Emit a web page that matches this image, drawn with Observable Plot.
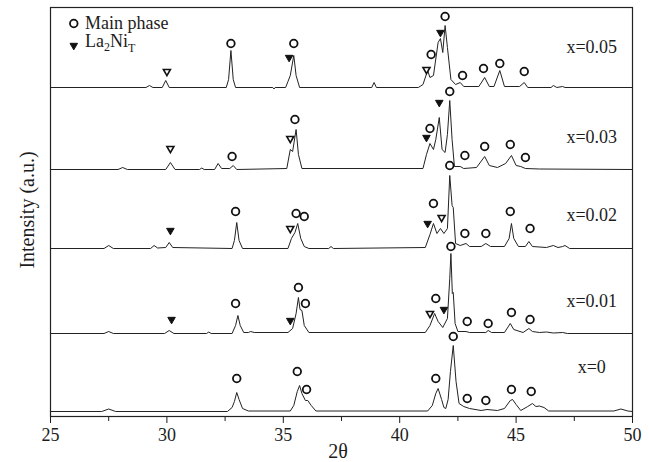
<!DOCTYPE html>
<html><head><meta charset="utf-8">
<script src="https://cdn.jsdelivr.net/npm/d3@7"></script>
<script src="https://cdn.jsdelivr.net/npm/@observablehq/plot@0.6"></script>
<style>body{margin:0;background:#fff} svg{display:block}</style>
</head><body><div id="chart"></div>
<script>
// ---- data (2θ, relative intensity above each trace's baseline) ----
const sampleNames = ["x=0", "x=0.01", "x=0.02", "x=0.03", "x=0.05"];
const baselineOffsets = [5, 83, 168, 247, 329];
const labelTheta = 48.25;
const labelLevels = [49, 115, 201, 279, 369];
const majorTicks = [25, 30, 35, 40, 45, 50];
const minorTicks = [27.5, 32.5, 37.5, 42.5, 47.5];

const trace_x0 = [[25,0],[27.2,0],[27.5,2.5],[27.8,0],[32.6,0],[32.8,4],[32.9,10],[33.0,19],[33.1,12],[33.25,3],[33.5,0.5],[35.3,0.5],[35.45,6],[35.6,20],[35.7,26],[35.8,18],[35.95,11],[36.05,11],[36.2,6],[36.4,0.5],[41.2,0.5],[41.4,6],[41.55,18],[41.65,23],[41.8,12],[41.9,4],[41.98,3],[42.08,12],[42.18,40],[42.3,66],[42.42,30],[42.55,8],[42.75,5],[43.0,3],[43.5,1],[43.75,2],[44.2,1],[44.5,3],[44.75,11],[44.85,12],[45.0,7],[45.2,1],[45.5,5],[45.7,8],[45.85,5],[46.0,5.5],[46.2,4],[46.4,0.5],[49.2,0.5],[49.5,2.5],[49.8,0.5],[50,0]];
const trace_x001 = [[25,0],[27.3,0],[27.5,2],[27.7,0],[29.9,0],[30.1,3],[30.3,0],[31.7,0],[31.8,1.5],[31.9,0],[32.8,0],[32.95,8],[33.05,18],[33.15,8],[33.3,1],[33.5,1],[33.6,2],[33.75,1],[35.2,1],[35.4,5],[35.55,20],[35.65,36],[35.72,24],[35.8,23],[35.9,8],[36.1,1],[41.1,1],[41.3,8],[41.5,20],[41.65,12],[41.85,6],[42.05,15],[42.15,55],[42.2,80],[42.26,40],[42.3,41],[42.38,10],[42.5,2],[42.85,2],[43.0,1],[43.7,1],[43.8,3],[43.95,1],[44.5,1],[44.75,10],[44.9,4],[45.3,1],[45.55,5],[45.7,2],[46.0,1],[46.3,1.5],[46.6,0.5],[47.0,1],[47.2,0],[50,0]];
const trace_x002 = [[25,0],[27.3,0],[27.5,3],[27.7,0],[29.3,0],[29.45,3],[29.6,0.5],[29.95,1],[30.1,6],[30.25,1],[32.8,0],[32.9,8],[33.0,26],[33.1,8],[33.25,0],[35.2,0],[35.35,10],[35.5,16],[35.62,25],[35.75,10],[35.9,2],[36.1,0],[36.95,0],[37.05,2],[37.15,0],[41.1,1],[41.3,14],[41.45,25],[41.6,15],[41.75,20],[41.9,15],[42.05,20],[42.15,73],[42.25,43],[42.3,41],[42.4,5],[42.6,3],[42.85,5],[43.0,2],[43.5,2],[43.7,5],[43.9,2],[44.5,2],[44.7,10],[44.8,25],[44.9,10],[45.1,2],[45.4,2],[45.55,7],[45.7,2],[46.3,1],[46.6,3],[46.8,1],[47.0,2],[47.1,3],[47.3,0],[50,0]];
const trace_x003 = [[25,0],[27.9,0],[28.1,2],[28.3,0],[29.95,0],[30.15,7],[30.35,0],[31.4,0],[31.5,1.5],[31.6,0],[32.05,0],[32.2,6],[32.35,1],[32.7,1],[32.85,4],[33.0,0],[35.15,1],[35.3,20],[35.4,18],[35.55,40],[35.65,15],[35.8,1],[41.0,1],[41.15,15],[41.3,26],[41.45,20],[41.55,30],[41.7,52],[41.82,20],[41.95,17],[42.05,35],[42.15,69],[42.25,30],[42.35,3],[42.6,3],[42.75,1],[43.3,2],[43.65,13],[43.85,4],[44.2,2],[44.55,6],[44.8,14],[45.0,4],[45.2,3],[45.4,1],[46.0,0.5],[50,0]];
const trace_x005 = [[25,0],[29.1,0],[29.25,2],[29.4,0],[29.8,0],[29.95,7],[30.1,0],[32.55,0],[32.65,8],[32.75,37],[32.85,8],[32.95,0],[34.55,0],[34.6,-1.5],[34.65,0],[35.1,0],[35.2,6],[35.3,12],[35.45,32],[35.55,12],[35.7,0],[38.8,0],[38.9,5],[39.0,0],[40.8,0],[41.0,3],[41.2,17],[41.3,10],[41.45,12],[41.65,45],[41.75,49],[41.85,35],[41.95,62],[42.05,40],[42.2,8],[42.4,3],[42.6,5],[42.75,1],[43.4,1],[43.65,10],[43.85,1],[44.05,1],[44.3,17],[44.5,1],[45.15,1],[45.35,5],[45.5,0],[46.5,0],[46.6,2],[46.75,0],[47.0,1],[47.1,0],[50,0]];
const traces = [trace_x0, trace_x001, trace_x002, trace_x003, trace_x005];

// marker positions (2θ, absolute level)
const circles_x0   = [[33.0,38],[35.6,45],[36.0,27],[41.55,38],[42.3,80],[42.9,18],[43.7,16],[44.8,27],[45.65,25]];
const circles_x001 = [[32.95,113],[35.65,129],[35.95,113],[41.55,118],[42.2,170],[42.9,95],[43.8,93],[44.8,104],[45.6,97]];
const circles_x002 = [[32.95,205],[35.55,203],[35.9,200],[41.45,213],[42.15,251],[42.8,183],[43.7,183],[44.75,205],[45.6,188]];
const circles_x003 = [[32.8,260],[35.5,297],[41.3,288],[42.15,325],[42.8,261],[43.65,270],[44.75,272],[45.4,259]];
const circles_x005 = [[32.75,373],[35.45,373],[41.35,362],[41.95,400],[42.7,341],[43.6,348],[44.3,353],[45.35,345]];
const trianglesFilled = [[30.2,97],[35.3,96],[41.9,107],[30.15,186],[41.2,193],[41.15,279],[41.7,314],[35.25,359],[41.75,384]];
const trianglesOpen = [[41.3,103],[35.3,188],[41.8,199],[30.15,268],[35.3,278],[30.0,345],[41.15,347]];
const legendCircle = [[26.0,393]];
const legendTriangle = [[26.0,371]];

// ---- build tables ----
const rows = traces.flatMap((tr, i) => tr.map(([t, v]) => ({s: sampleNames[i], t, y: v + baselineOffsets[i]})));
const toPts = arr => arr.map(([t, y]) => ({t, y}));
const circles = [circles_x0, circles_x001, circles_x002, circles_x003, circles_x005].flatMap(toPts);
const labels = sampleNames.map((s, i) => ({s, t: labelTheta, y: labelLevels[i]}));

const font = "'Liberation Serif','Times New Roman',serif";
const ink = "#1c1c1c";

const chart = Plot.plot({
  width: 649, height: 462,
  marginLeft: 50, marginRight: 17, marginTop: 7, marginBottom: 46,
  style: {fontFamily: font, fontSize: "18px", color: ink, background: "white", overflow: "visible"},
  x: {domain: [25, 50], label: null},
  y: {domain: [0, 409], axis: null},
  marks: [
    Plot.axisX({ticks: majorTicks, tickSize: 7, tickPadding: 5, fontSize: 18, label: null, tickFormat: d => String(d), stroke: ink}),
    Plot.axisX({ticks: minorTicks, tickSize: 5, tickFormat: () => "", label: null, stroke: ink}),
    Plot.line(rows, {x: "t", y: "y", z: "s", stroke: "#222", strokeWidth: 1, curve: "linear"}),
    Plot.dot(circles, {x: "t", y: "y", r: 3.8, stroke: "#111", strokeWidth: 1.8, fill: "white"}),
    Plot.dot(toPts(trianglesFilled), {x: "t", y: "y", symbol: "triangle", r: 2.8, rotate: 180, fill: "#111", stroke: "#111", strokeWidth: 1}),
    Plot.dot(toPts(trianglesOpen), {x: "t", y: "y", symbol: "triangle", r: 2.6, rotate: 180, fill: "white", stroke: "#111", strokeWidth: 1.6}),
    Plot.dot(toPts(legendCircle), {x: "t", y: "y", r: 3.8, stroke: "#111", strokeWidth: 1.8, fill: "white"}),
    Plot.dot(toPts(legendTriangle), {x: "t", y: "y", symbol: "triangle", r: 2.8, rotate: 180, fill: "#111", stroke: "#111", strokeWidth: 1}),
    Plot.text(labels, {x: "t", y: "y", text: "s", fontSize: 18, fill: ink, textAnchor: "middle"}),
    Plot.frame({stroke: "#222", strokeWidth: 1.2})
  ]
});

const svg = d3.select(chart);
const ys = chart.scale("y");
// legend texts
svg.append("text").attr("x", 85).attr("y", ys.apply(legendCircle[0][1]) + 5.5).attr("text-anchor", "start")
  .attr("font-family", font).attr("font-size", 18).attr("fill", ink).text("Main phase");
const la = svg.append("text").attr("x", 85).attr("y", ys.apply(legendTriangle[0][1]) + 2).attr("text-anchor", "start")
  .attr("font-family", font).attr("font-size", 18).attr("fill", ink);
la.append("tspan").text("La");
la.append("tspan").attr("font-size", 12).attr("dy", 4).text("2");
la.append("tspan").attr("dy", -4).text("Ni");
la.append("tspan").attr("font-size", 12).attr("dy", 5).text("T");
// axis titles
svg.append("text").attr("x", 338).attr("y", 458).attr("text-anchor", "middle")
  .attr("font-family", font).attr("font-size", 20).attr("fill", ink).text("2θ");
svg.append("text").attr("transform", "translate(34,210) rotate(-90)").attr("text-anchor", "middle")
  .attr("font-family", font).attr("font-size", 20).attr("fill", ink).text("Intensity (a.u.)");

document.getElementById("chart").appendChild(chart);
</script>
</body></html>
